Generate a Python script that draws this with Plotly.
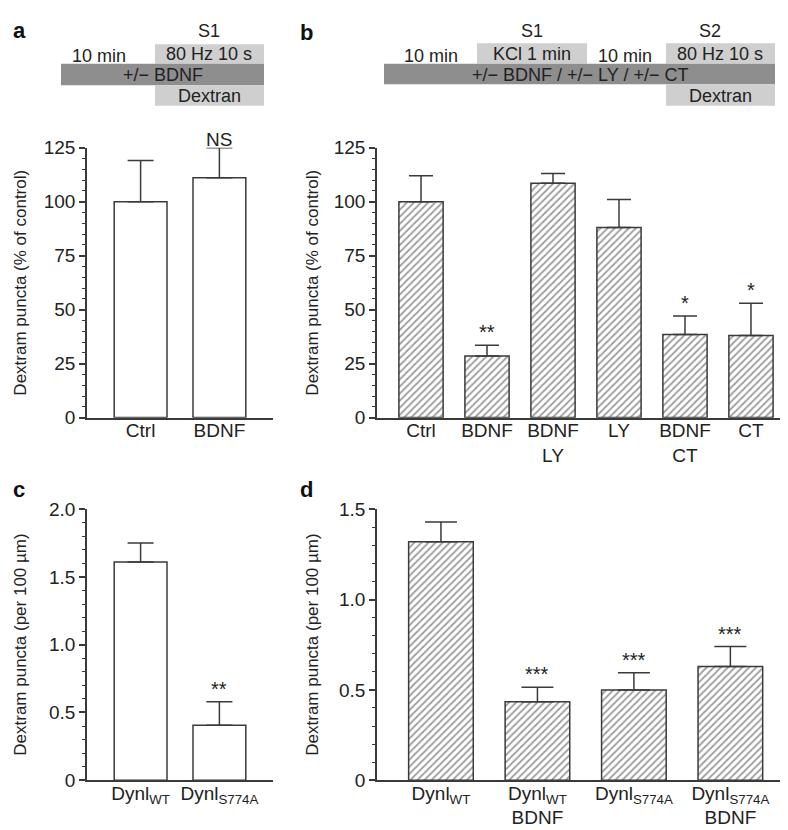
import plotly.graph_objects as go

W, H = 788, 830

# ---------------- data ----------------
a_cats = ["Ctrl", "BDNF"]
a_vals = [100, 111]
a_err_top = [119, 125]
a_sig = ["", "NS"]

b_cats = ["Ctrl", "BDNF", "BDNF<br>LY", "LY", "BDNF<br>CT", "CT"]
b_vals = [100, 28.5, 108.5, 88, 38.5, 38]
b_err_top = [112, 33.5, 113, 101, 47, 53]
b_sig = ["", "**", "", "", "*", "*"]

c_cats = ["Dynl<sub>WT</sub>", "Dynl<sub>S774A</sub>"]
c_vals = [1.61, 0.405]
c_err_top = [1.75, 0.58]
c_sig = ["", "**"]

d_cats = ["Dynl<sub>WT</sub>", "Dynl<sub>WT</sub><br>BDNF", "Dynl<sub>S774A</sub>", "Dynl<sub>S774A</sub><br>BDNF"]
d_vals = [1.32, 0.435, 0.50, 0.63]
d_err_top = [1.43, 0.515, 0.595, 0.74]
d_sig = ["", "***", "***", "***"]

ytitle_pct = "Dextram puncta (% of control)"
ytitle_um = "Dextram puncta (per 100 µm)"

# ---------------- style ----------------
AX = "#3a3a3a"
TXT = "#222222"
FONT = "Liberation Sans, Arial, sans-serif"
DARK = "#8e8e8e"
LIGHT = "#cfcfcf"
TICK_SIZE = 19


def px_x(p):
    return p / W


def px_y(p):
    return 1 - p / H


fig = go.Figure()

panels = [
    ("1", a_cats, a_vals, a_err_top, a_sig, False, (79, 265), (133, 410), [0, 125], 25, 5, [-0.68, 1.68], 13),
    ("2", b_cats, b_vals, b_err_top, b_sig, True, (369, 787), (133, 410), [0, 125], 25, 5, [-0.667, 5.667], 12),
    ("3", c_cats, c_vals, c_err_top, c_sig, False, (79, 265), (504, 782), [0, 2.0], 0.5, 0.1, [-0.68, 1.68], 13),
    ("4", d_cats, d_vals, d_err_top, d_sig, True, (369, 787), (504, 782), [0, 1.5], 0.5, 0.1, [-0.663, 3.67], 16),
]

annotations = []
for key, cats, vals, errt, sig, hatched, xp, yp, yr, major, minor, xr, capw in panels:
    xa = "x" if key == "1" else "x" + key
    ya = "y" if key == "1" else "y" + key
    xs = list(range(len(cats)))
    marker = dict(color="white", line=dict(color=AX, width=1.5))
    if hatched:
        marker["pattern"] = dict(shape="/", fgcolor="#3a3a3a", bgcolor="white", size=5, solidity=0.35)
    fig.add_trace(go.Bar(
        x=xs, y=vals, xaxis=xa, yaxis=ya, width=0.67, marker=marker,
        error_y=dict(type="data", symmetric=False,
                     array=[t - v for t, v in zip(errt, vals)],
                     arrayminus=[0] * len(vals),
                     color=AX, thickness=1.5, width=capw),
        showlegend=False, hoverinfo="skip",
    ))
    for i, s in enumerate(sig):
        if s:
            annotations.append(dict(x=i, y=errt[i], xref=xa, yref=ya, text=s, showarrow=False,
                                    yanchor="bottom", yshift=(-4 if s == "NS" else 0),
                                    font=dict(size=19 if s == "NS" else 20, color=TXT, family=FONT)))
    lay_x = "xaxis" if key == "1" else "xaxis" + key
    lay_y = "yaxis" if key == "1" else "yaxis" + key
    ticks_major = []
    v = 0
    while v <= yr[1] + 1e-9:
        ticks_major.append(round(v, 3))
        v += major
    if major >= 1:
        tt = [str(int(t)) for t in ticks_major]
    else:
        tt = ["0" if t == 0 else f"{t:.1f}" for t in ticks_major]
    fig.layout[lay_x] = dict(
        domain=[px_x(xp[0]), px_x(xp[1])], range=xr, anchor=ya,
        tickmode="array", tickvals=xs, ticktext=cats, ticks="", ticklabelstandoff=-5,
        showline=True, linecolor=AX, linewidth=1.5, showgrid=False, zeroline=False,
        tickfont=dict(size=TICK_SIZE, color=TXT, family=FONT), fixedrange=True,
    )
    fig.layout[lay_y] = dict(
        domain=[px_y(yp[1]), px_y(yp[0])], range=yr, anchor=xa,
        tickmode="array", tickvals=ticks_major, ticktext=tt,
        ticks="outside", ticklen=6, tickwidth=1.5, tickcolor=AX,
        minor=dict(ticks="outside", ticklen=3, tickwidth=1.2, tickcolor=AX, dtick=minor, showgrid=False),
        showline=True, linecolor=AX, linewidth=1.5, showgrid=False, zeroline=False,
        tickfont=dict(size=TICK_SIZE, color=TXT, family=FONT), fixedrange=True,
    )

# y-axis titles
for xpix, (ytop, ybot), txt in [(13, (133, 410), ytitle_pct), (305, (133, 410), ytitle_pct),
                                 (13, (504, 782), ytitle_um), (305, (504, 782), ytitle_um)]:
    annotations.append(dict(x=px_x(xpix), y=px_y((ytop + ybot) / 2), xref="paper", yref="paper",
                            text=txt, textangle=-90, showarrow=False, xanchor="center", yanchor="middle",
                            font=dict(size=17, color=TXT, family=FONT)))

# panel letters
for xpix, ypix, L in [(11, 13, "a"), (298, 15, "b"), (11, 484, "c"), (298, 484, "d")]:
    annotations.append(dict(x=px_x(xpix), y=px_y(ypix), xref="paper", yref="paper", text=f"<b>{L}</b>",
                            showarrow=False, xanchor="center", yanchor="middle",
                            font=dict(size=22, color="#111111", family=FONT)))

shapes = []


def box(x0, x1, y0, y1, color):
    shapes.append(dict(type="rect", xref="paper", yref="paper",
                       x0=px_x(x0), x1=px_x(x1), y0=px_y(y1), y1=px_y(y0),
                       fillcolor=color, line=dict(width=0), layer="below"))


def label(xc, yc, text, size=18):
    annotations.append(dict(x=px_x(xc), y=px_y(yc), xref="paper", yref="paper", text=text,
                            showarrow=False, xanchor="center", yanchor="middle",
                            font=dict(size=size, color=TXT, family=FONT)))


# panel a protocol
box(147, 256, 27, 47, LIGHT)
box(53, 256, 47, 69, DARK)
box(147, 256, 69, 90, LIGHT)
label(201, 13, "S1")
label(91, 39, "10 min")
label(201, 37, "80 Hz 10 s")
label(155, 58, "+/− BDNF")
label(201, 80, "Dextran")

# panel b protocol
box(469, 579, 26, 47, LIGHT)
box(658, 767, 26, 47, LIGHT)
box(376, 767, 47, 68, DARK)
box(658, 767, 68, 90, LIGHT)
label(524, 13, "S1")
label(702, 13, "S2")
label(423, 39, "10 min")
label(524, 37, "KCl 1 min")
label(617, 39, "10 min")
label(712, 37, "80 Hz 10 s")
label(572, 58, "+/− BDNF / +/− LY / +/− CT")
label(712, 80, "Dextran")

fig.update_layout(
    width=W, height=H, margin=dict(l=0, r=0, t=0, b=0),
    paper_bgcolor="white", plot_bgcolor="white",
    annotations=annotations, shapes=shapes, bargap=0.3,
    font=dict(family=FONT, color=TXT),
)

fig.write_html("out.html")
